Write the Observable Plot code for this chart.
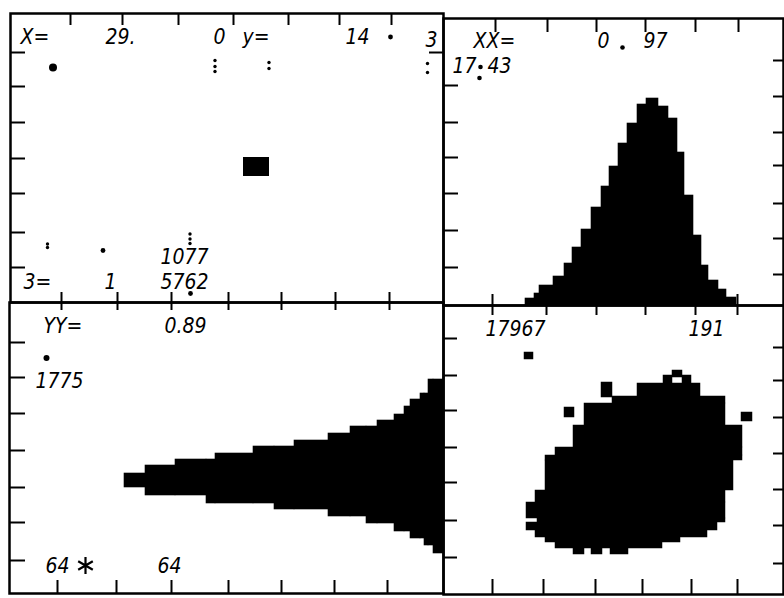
<!DOCTYPE html>
<html><head><meta charset="utf-8">
<script src="https://cdn.jsdelivr.net/npm/d3@7"></script>
<script src="https://cdn.jsdelivr.net/npm/@observablehq/plot@0.6"></script>
<style>
html,body{margin:0;padding:0;background:#fff;}
#fig{position:relative;width:784px;height:598px;overflow:hidden;background:#fff;}
#fig svg{position:absolute;max-width:none;}
</style></head><body><div id="fig"></div>
<script>
// ---------- data (panel units: 1 unit = one tenth of a tick-grid step) ----------
// Top-left panel
const tlTopTicks = [6.0, 11.2, 16.8, 22.3, 27.8, 32.9, 38.1];
const tlBottomTicks = [5.1, 10.7, 16.1, 21.8, 27.1, 32.5, 37.9];
const tlLeftTicks = [25.0, 21.6, 18.0, 14.4, 10.9, 7.0, 3.5];
const tlRightTicks = [25.0];
const tlLabels = [
  {x: 1.0, y: 25.9, text: "X="}, {x: 9.5, y: 25.9, text: "29."},
  {x: 20.3, y: 25.9, text: "0"}, {x: 23.2, y: 25.9, text: "y="},
  {x: 33.5, y: 25.9, text: "14"}, {x: 41.5, y: 25.6, text: "3"},
  {x: 15.0, y: 3.9, text: "1077"}, {x: 15.0, y: 1.4, text: "5762"},
  {x: 1.3, y: 1.4, text: "3="}, {x: 9.4, y: 1.4, text: "1"}
];
const tlBigDots = [{x: 4.25, y: 23.5}];
const tlSmallDots = [{x: 38.0, y: 26.55}, {x: 18.0, y: 0.9}, {x: 9.25, y: 5.2}];
const tlDashes = [
  {x: 20.45, y: 24.2}, {x: 20.45, y: 23.6}, {x: 20.45, y: 23.1},
  {x: 25.85, y: 24.0}, {x: 25.85, y: 23.4},
  {x: 41.7, y: 23.9}, {x: 41.7, y: 23.0},
  {x: 3.7, y: 5.85}, {x: 3.7, y: 5.5},
  {x: 17.95, y: 6.85}, {x: 17.95, y: 6.35}, {x: 17.95, y: 5.9}
];
const tlCells = [{x1: 23.3, x2: 25.9, y1: 12.6, y2: 14.5}];

// Top-right panel (histogram)
const trTopTicks = [5.2, 10.4, 15.3, 20.2, 25.2, 29.5];
const trBottomTicks = [4.9, 10.2, 15.4, 20.3, 25.2, 29.4];
const trLeftTicks = [22.0, 18.3, 14.8, 11.2, 7.5, 3.8];
const trRightTicks = [24.5, 20.9, 17.3, 14.0, 10.2, 6.7, 3.1];
const trBinEdges = [8.2, 9.1, 9.6, 11.0, 12.1, 12.9, 13.8, 14.8, 15.8, 16.6, 17.5, 18.4, 19.4, 20.3, 21.5, 22.5, 23.4, 24.1, 25.0, 25.8, 26.5, 27.5, 28.3, 29.3];
const trCounts = [0.7, 1.2, 2.0, 2.9, 4.2, 5.8, 7.6, 9.8, 11.9, 13.9, 16.2, 18.2, 20.1, 20.7, 19.9, 18.7, 15.3, 11.0, 7.0, 4.0, 2.5, 1.6, 0.8];
const trLabels = [
  {x: 3.0, y: 25.8, text: "XX="}, {x: 15.4, y: 25.8, text: "0"},
  {x: 20.0, y: 25.8, text: "97"}, {x: 0.9, y: 23.3, text: "17"},
  {x: 4.4, y: 23.3, text: "43"}
];
const trDots = [{x: 17.9, y: 25.8}, {x: 3.7, y: 23.85}, {x: 3.6, y: 22.75}];

// Bottom-left panel (funnel)
const blTopTicks = [5.2, 10.8, 16.2, 21.9, 27.2, 32.6, 38.0];
const blBottomTicks = [4.8, 10.7, 16.2, 21.9, 27.2, 32.5, 37.8];
const blLeftTicks = [25.1, 21.6, 18.0, 14.3, 10.6, 7.1, 3.3];
const blColumns = [
  {x1: 11.5, x2: 13.6, lo: 10.6, hi: 12.0},
  {x1: 13.6, x2: 16.6, lo: 9.8, hi: 12.8},
  {x1: 16.6, x2: 19.7, lo: 9.8, hi: 13.4},
  {x1: 19.7, x2: 20.6, lo: 9.0, hi: 13.4},
  {x1: 20.6, x2: 24.4, lo: 9.0, hi: 14.0},
  {x1: 24.4, x2: 26.5, lo: 9.0, hi: 14.7},
  {x1: 26.5, x2: 28.5, lo: 8.4, hi: 14.7},
  {x1: 28.5, x2: 31.9, lo: 8.4, hi: 15.3},
  {x1: 31.9, x2: 34.1, lo: 7.7, hi: 16.0},
  {x1: 34.1, x2: 35.7, lo: 7.7, hi: 16.7},
  {x1: 35.7, x2: 36.8, lo: 7.0, hi: 16.7},
  {x1: 36.8, x2: 38.5, lo: 7.0, hi: 17.3},
  {x1: 38.5, x2: 39.5, lo: 6.2, hi: 17.9},
  {x1: 39.5, x2: 40.1, lo: 6.2, hi: 18.7},
  {x1: 40.1, x2: 41.1, lo: 5.5, hi: 19.4},
  {x1: 41.1, x2: 41.5, lo: 5.5, hi: 20.0},
  {x1: 41.5, x2: 41.9, lo: 4.8, hi: 20.0},
  {x1: 41.9, x2: 42.4, lo: 4.8, hi: 21.4},
  {x1: 42.4, x2: 43.4, lo: 4.0, hi: 21.4}
];
const blLabels = [
  {x: 3.4, y: 26.1, text: "YY="}, {x: 15.5, y: 26.1, text: "0.89"},
  {x: 2.6, y: 20.6, text: "1775"}, {x: 3.6, y: 2.1, text: "64"},
  {x: 14.8, y: 2.1, text: "64"}
];
const blDots = [{x: 3.7, y: 23.55}];
const blStars = [{x: 7.6, y: 2.8}];

// Bottom-right panel (scatter density)
const brTopTicks = [4.9, 10.3, 15.3, 20.2, 25.2, 29.4];
const brBottomTicks = [4.9, 10.0, 15.2, 19.9, 24.8, 29.4];
const brLeftTicks = [25.6, 21.9, 18.4, 14.7, 11.2, 7.4, 3.7];
const brRightTicks = [24.7, 21.4, 17.7, 14.1, 10.5, 6.9, 3.1];
const brCells = [
  {x1: 8.1, x2: 9.0, y1: 23.5, y2: 24.2},
  {x1: 22.9, x2: 23.9, y1: 21.7, y2: 22.4},
  {x1: 22.0, x2: 22.9, y1: 21.1, y2: 21.9},
  {x1: 23.9, x2: 24.8, y1: 21.1, y2: 21.9},
  {x1: 15.8, x2: 16.9, y1: 19.7, y2: 21.2},
  {x1: 12.1, x2: 13.1, y1: 17.7, y2: 18.7},
  {x1: 29.8, x2: 30.9, y1: 17.3, y2: 18.2},
  {x1: 19.4, x2: 25.7, y1: 19.8, y2: 21.1},
  {x1: 16.9, x2: 28.2, y1: 19.1, y2: 19.8},
  {x1: 14.1, x2: 28.2, y1: 16.9, y2: 19.1},
  {x1: 13.0, x2: 29.9, y1: 14.7, y2: 16.9},
  {x1: 11.2, x2: 29.9, y1: 13.9, y2: 14.7},
  {x1: 10.2, x2: 29.9, y1: 13.4, y2: 13.9},
  {x1: 10.2, x2: 29.0, y1: 10.4, y2: 13.4},
  {x1: 9.2, x2: 28.2, y1: 9.2, y2: 10.4},
  {x1: 8.3, x2: 28.2, y1: 7.6, y2: 9.2},
  {x1: 9.4, x2: 28.2, y1: 7.2, y2: 7.6},
  {x1: 8.3, x2: 27.4, y1: 6.4, y2: 7.2},
  {x1: 9.2, x2: 26.4, y1: 5.7, y2: 6.4},
  {x1: 10.2, x2: 23.7, y1: 5.2, y2: 5.7},
  {x1: 11.2, x2: 21.9, y1: 4.6, y2: 5.2},
  {x1: 13.0, x2: 14.1, y1: 4.0, y2: 4.6},
  {x1: 14.8, x2: 15.9, y1: 4.0, y2: 4.6},
  {x1: 16.7, x2: 18.5, y1: 4.0, y2: 4.6}
];
const brLabels = [{x: 4.2, y: 25.9, text: "17967"}, {x: 24.5, y: 25.9, text: "191"}];

// ---------- drawing ----------
const fig = document.getElementById("fig");
const INK = "#000";
const FONT = {fontFamily: "'DejaVu Sans Condensed', 'DejaVu Sans', sans-serif", fontSize: 21, fontStyle: "italic", fill: INK, textAnchor: "start", lineAnchor: "bottom"};

function tickMarks(W, H, t) {
  const m = [], sw = 2;
  if (t.top) m.push(Plot.ruleX(t.top.pos, {x: d => d, y1: () => H + (t.top.out || 0), y2: () => H - t.top.len, stroke: INK, strokeWidth: sw}));
  if (t.bottom) m.push(Plot.ruleX(t.bottom.pos, {x: d => d, y1: () => -(t.bottom.out || 0), y2: () => t.bottom.len, stroke: INK, strokeWidth: sw}));
  if (t.left) m.push(Plot.ruleY(t.left.pos, {y: d => d, x1: () => -(t.left.out || 0), x2: () => t.left.len, stroke: INK, strokeWidth: sw}));
  if (t.right) m.push(Plot.ruleY(t.right.pos, {y: d => d, x1: () => W + (t.right.out || 0), x2: () => W - t.right.len, stroke: INK, strokeWidth: sw}));
  return m;
}

function panel({left, top, W, H, ticks, marks}) {
  const pad = 3, k = 10;
  const svg = Plot.plot({
    width: W * k + 2 * pad, height: H * k + 2 * pad, margin: pad,
    x: {domain: [0, W], axis: null}, y: {domain: [0, H], axis: null},
    style: {background: "transparent", overflow: "visible"},
    marks: [...marks, ...tickMarks(W, H, ticks), Plot.frame({stroke: INK, strokeWidth: 2.5})]
  });
  svg.style.left = (left - pad) + "px";
  svg.style.top = (top - pad) + "px";
  fig.append(svg);
}

// top-left
panel({left: 10, top: 13, W: 43.3, H: 28.9,
  ticks: {top: {pos: tlTopTicks, len: 1.2}, bottom: {pos: tlBottomTicks, len: 1.0},
          left: {pos: tlLeftTicks, len: 1.5}, right: {pos: tlRightTicks, len: 1.4}},
  marks: [
    Plot.rect(tlCells, {x1: "x1", x2: "x2", y1: "y1", y2: "y2", fill: INK}),
    Plot.dot(tlBigDots, {x: "x", y: "y", r: 4, fill: INK}),
    Plot.dot(tlSmallDots, {x: "x", y: "y", r: 2.4, fill: INK}),
    Plot.dot(tlDashes, {x: "x", y: "y", r: 1.7, fill: INK}),
    Plot.text(tlLabels, {x: "x", y: "y", text: "text", ...FONT})
  ]});

// top-right
const trBins = trCounts.map((c, i) => ({x1: trBinEdges[i], x2: trBinEdges[i + 1], count: c}));
panel({left: 443, top: 18, W: 34.0, H: 28.7,
  ticks: {top: {pos: trTopTicks, len: 1.4}, bottom: {pos: trBottomTicks, len: 1.1},
          left: {pos: trLeftTicks, len: 1.5}, right: {pos: trRightTicks, len: 1.0}},
  marks: [
    Plot.rectY(trBins, {x1: "x1", x2: "x2", y: "count", fill: INK, stroke: INK, strokeWidth: 0.6}),
    Plot.dot(trDots, {x: "x", y: "y", r: 2.3, fill: INK}),
    Plot.text(trLabels, {x: "x", y: "y", text: "text", ...FONT})
  ]});

// bottom-left
panel({left: 9, top: 302, W: 43.4, H: 29.1,
  ticks: {top: {pos: blTopTicks, len: 0.8}, bottom: {pos: blBottomTicks, len: 1.3},
          left: {pos: blLeftTicks, len: 1.6}},
  marks: [
    Plot.rect(blColumns, {x1: "x1", x2: "x2", y1: "lo", y2: "hi", fill: INK, stroke: INK, strokeWidth: 0.6}),
    Plot.dot(blDots, {x: "x", y: "y", r: 3, fill: INK}),
    Plot.dot(blStars, {x: "x", y: "y", r: 8, symbol: "asterisk", stroke: INK, strokeWidth: 2.2}),
    Plot.text(blLabels, {x: "x", y: "y", text: "text", ...FONT})
  ]});

// bottom-right
panel({left: 443, top: 305, W: 34.0, H: 28.9,
  ticks: {top: {pos: brTopTicks, len: 1.0}, bottom: {pos: brBottomTicks, len: 1.5},
          left: {pos: brLeftTicks, len: 1.4}, right: {pos: brRightTicks, len: 1.0}},
  marks: [
    Plot.rect(brCells, {x1: "x1", x2: "x2", y1: "y1", y2: "y2", fill: INK, stroke: INK, strokeWidth: 0.5}),
    Plot.text(brLabels, {x: "x", y: "y", text: "text", ...FONT})
  ]});
</script></body></html>
